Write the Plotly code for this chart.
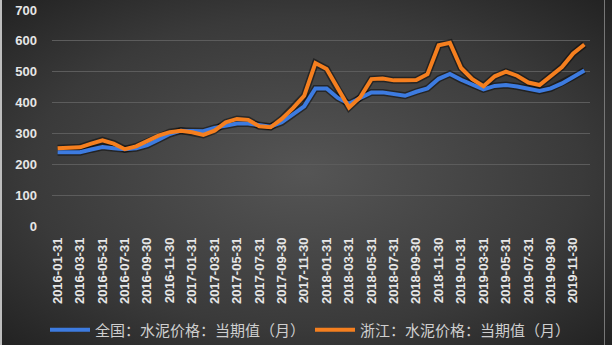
import plotly.graph_objects as go
import base64

months = ["2016-01-31","2016-02-29","2016-03-31","2016-04-30","2016-05-31","2016-06-30",
          "2016-07-31","2016-08-31","2016-09-30","2016-10-31","2016-11-30","2016-12-31",
          "2017-01-31","2017-02-28","2017-03-31","2017-04-30","2017-05-31","2017-06-30",
          "2017-07-31","2017-08-31","2017-09-30","2017-10-31","2017-11-30","2017-12-31",
          "2018-01-31","2018-02-28","2018-03-31","2018-04-30","2018-05-31","2018-06-30",
          "2018-07-31","2018-08-31","2018-09-30","2018-10-31","2018-11-30","2018-12-31",
          "2019-01-31","2019-02-28","2019-03-31","2019-04-30","2019-05-31","2019-06-30",
          "2019-07-31","2019-08-31","2019-09-30","2019-10-31","2019-11-30","2019-12-31"]

national = [239, 239, 239, 248, 256, 252, 249, 252, 262, 280, 298, 309,
            309, 307, 318, 325, 332, 332, 327, 322, 336, 361, 388, 446,
            446, 415, 396, 415, 433, 433, 428, 422, 435, 446, 477, 493,
            474, 457, 443, 454, 457, 452, 446, 438, 446, 462, 483, 504]

zhejiang = [252, 252, 255, 267, 278, 267, 249, 258, 275, 293, 304, 309,
            304, 295, 309, 336, 347, 344, 323, 320, 347, 382, 422, 528,
            509, 444, 384, 417, 476, 478, 472, 472, 473, 492, 586, 594,
            512, 476, 453, 485, 500, 487, 465, 457, 484, 515, 559, 588]

tick_labels = months[::2]
y_ticks = [0, 100, 200, 300, 400, 500, 600, 700]

name_national = "全国：水泥价格：当期值（月）"
name_zhejiang = "浙江：水泥价格：当期值（月）"

svg = """<svg xmlns='http://www.w3.org/2000/svg' width='612' height='345' viewBox='0 0 612 345' preserveAspectRatio='none'>
<defs><radialGradient id='g' cx='0.5' cy='0.5' r='0.75'>
<stop offset='0' stop-color='#555555'/><stop offset='0.6' stop-color='#3a3a3a'/><stop offset='1' stop-color='#1e1e1e'/>
</radialGradient></defs>
<rect width='612' height='345' fill='url(#g)'/>
<rect x='0' y='0' width='2' height='345' fill='#bdbdbd'/>
<rect x='604' y='0' width='1' height='345' fill='#777777'/>
</svg>"""
bg_src = "data:image/svg+xml;base64," + base64.b64encode(svg.encode()).decode()

W, H = 612, 345
ml, mr, mt, mb = 52, 22, 10, 119
pw, ph = W - ml - mr, H - mt - mb

fig = go.Figure()
# shadows
for vals in (national, zhejiang):
    fig.add_trace(go.Scatter(x=months, y=vals, mode="lines", showlegend=False, hoverinfo="skip",
                             line=dict(color="rgba(0,0,0,0.45)", width=7)))
fig.add_trace(go.Scatter(x=months, y=national, mode="lines", name=name_national,
                         line=dict(color="#3d7be0", width=4)))
fig.add_trace(go.Scatter(x=months, y=zhejiang, mode="lines", name=name_zhejiang,
                         line=dict(color="#f57f1f", width=4)))

fig.update_layout(
    width=W, height=H,
    margin=dict(l=ml, r=mr, t=mt, b=mb, autoexpand=False),
    paper_bgcolor="#2e2e2e",
    plot_bgcolor="rgba(0,0,0,0)",
    font=dict(family="Noto Sans CJK SC, Noto Sans, sans-serif", color="#d9d9d9"),
    images=[dict(source=bg_src, xref="paper", yref="paper",
                 x=-ml / pw, y=1 + mt / ph, sizex=W / pw, sizey=H / ph,
                 xanchor="left", yanchor="top", sizing="stretch", layer="below")],
    xaxis=dict(type="category", categoryorder="array", categoryarray=months,
               range=[-0.5, len(months) - 0.5], automargin=False,
               tickmode="array", tickvals=tick_labels, ticktext=tick_labels,
               tickangle=-90, showgrid=False, zeroline=False, showline=False,
               ticks="", tickfont=dict(size=13, color="#e6e6e6", family="Liberation Sans", weight="bold"),
               ticklabelstandoff=8),
    yaxis=dict(range=[0, 700], tickvals=y_ticks, showgrid=True, gridcolor="#5c5c5c", gridwidth=1,
               zeroline=False, showline=False, ticks="", automargin=False,
               tickfont=dict(size=13, color="#e6e6e6", family="Liberation Sans", weight="bold"),
               ticklabelstandoff=14),
    legend=dict(orientation="h", xref="container", yref="container",
                x=45 / W, xanchor="left", y=(H - 330) / H, yanchor="middle",
                font=dict(size=15, color="#cfcfcf", family="Noto Sans CJK SC"),
                bgcolor="rgba(0,0,0,0)", entrywidth=210, entrywidthmode="pixels",
                itemwidth=40),
    showlegend=True,
)

fig.write_html("out.html")
